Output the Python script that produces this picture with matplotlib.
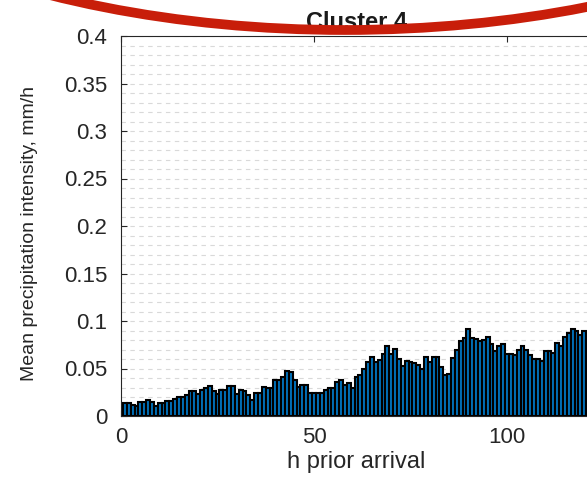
import matplotlib.pyplot as plt
from matplotlib.patches import Ellipse
import numpy as np

plt.rcParams['font.family'] = ['Liberation Sans', 'DejaVu Sans']

# mean precipitation intensity (mm/h) for each hour prior arrival, 1..121
hours = np.arange(1, 122)
intensity = [
    0.014, 0.014, 0.012, 0.011, 0.015, 0.015, 0.017, 0.015, 0.011, 0.014,
    0.014, 0.016, 0.016, 0.018, 0.020, 0.020, 0.022, 0.026, 0.026, 0.023,
    0.027, 0.029, 0.032, 0.026, 0.023, 0.027, 0.027, 0.032, 0.032, 0.023,
    0.027, 0.026, 0.022, 0.017, 0.024, 0.024, 0.031, 0.030, 0.030, 0.038,
    0.038, 0.041, 0.047, 0.046, 0.038, 0.031, 0.033, 0.033, 0.024, 0.024,
    0.024, 0.024, 0.027, 0.029, 0.030, 0.036, 0.038, 0.033, 0.035, 0.030,
    0.041, 0.043, 0.049, 0.057, 0.062, 0.057, 0.059, 0.065, 0.074, 0.065,
    0.071, 0.060, 0.053, 0.058, 0.057, 0.056, 0.054, 0.049, 0.062, 0.057,
    0.062, 0.062, 0.052, 0.043, 0.044, 0.061, 0.070, 0.079, 0.082, 0.092,
    0.082, 0.081, 0.079, 0.080, 0.083, 0.076, 0.068, 0.074, 0.076, 0.065,
    0.065, 0.064, 0.070, 0.074, 0.070, 0.064, 0.060, 0.060, 0.058, 0.068,
    0.068, 0.066, 0.077, 0.074, 0.083, 0.087, 0.092, 0.090, 0.085, 0.089,
    0.080,
]
yticks = [0, 0.05, 0.1, 0.15, 0.2, 0.25, 0.3, 0.35, 0.4]
ytick_labels = ['0', '0.05', '0.1', '0.15', '0.2', '0.25', '0.3', '0.35', '0.4']
xticks = [0, 50, 100]

W, H = 587, 479
fig = plt.figure(figsize=(W / 100, H / 100), dpi=100)
# axes runs off the right edge of the picture, like the cropped original
ax = fig.add_axes([121 / W, 63 / H, 130 * 3.86 / W, 380 / H])

ax.bar(hours, intensity, width=1.0, color='#0072BD', edgecolor='black',
       linewidth=1.5, zorder=3)

ax.set_xticks(xticks)
ax.set_xticklabels([str(t) for t in xticks])
ax.set_yticks(yticks)
ax.set_yticklabels(ytick_labels)
ax.set_yticks(np.arange(0, 0.401, 0.01), minor=True)
ax.set_xlim(0, 130)
ax.set_ylim(0, 0.4)

ax.grid(axis='y', which='both', linestyle=(0, (4, 4)), color='#d9d9d9',
        linewidth=0.8, zorder=0)
ax.set_axisbelow(True)

ax.tick_params(axis='both', which='major', direction='in', length=4,
               width=0.8, colors='#262626', labelsize=16, top=True, pad=10)
ax.tick_params(axis='both', which='minor', length=0)
ax.tick_params(axis='x', pad=8)
for s in ax.spines.values():
    s.set_color('#262626')
    s.set_linewidth(0.8)

ax.set_xlabel('h prior arrival', fontsize=17, color='#262626')
ax.xaxis.set_label_coords(0.468, -0.092)
ax.set_ylabel('Mean precipitation intensity, mm/h', fontsize=14,
              color='#262626')
ax.yaxis.set_label_coords(-0.165, 0.48)

fig.text(357 / W, 1 - 29 / H, 'Cluster 4', ha='center', va='baseline',
         fontsize=17, fontweight='bold', color='#1a1a1a')

# red annotation arc across the top
arc = Ellipse((345 / W, (H + 270) / H), 1260 / W, 600 / H,
              transform=fig.transFigure, fill=False, edgecolor='#c81e0a',
              linewidth=7, zorder=10)
fig.patches.append(arc)

fig.savefig('out.png', dpi=100)
